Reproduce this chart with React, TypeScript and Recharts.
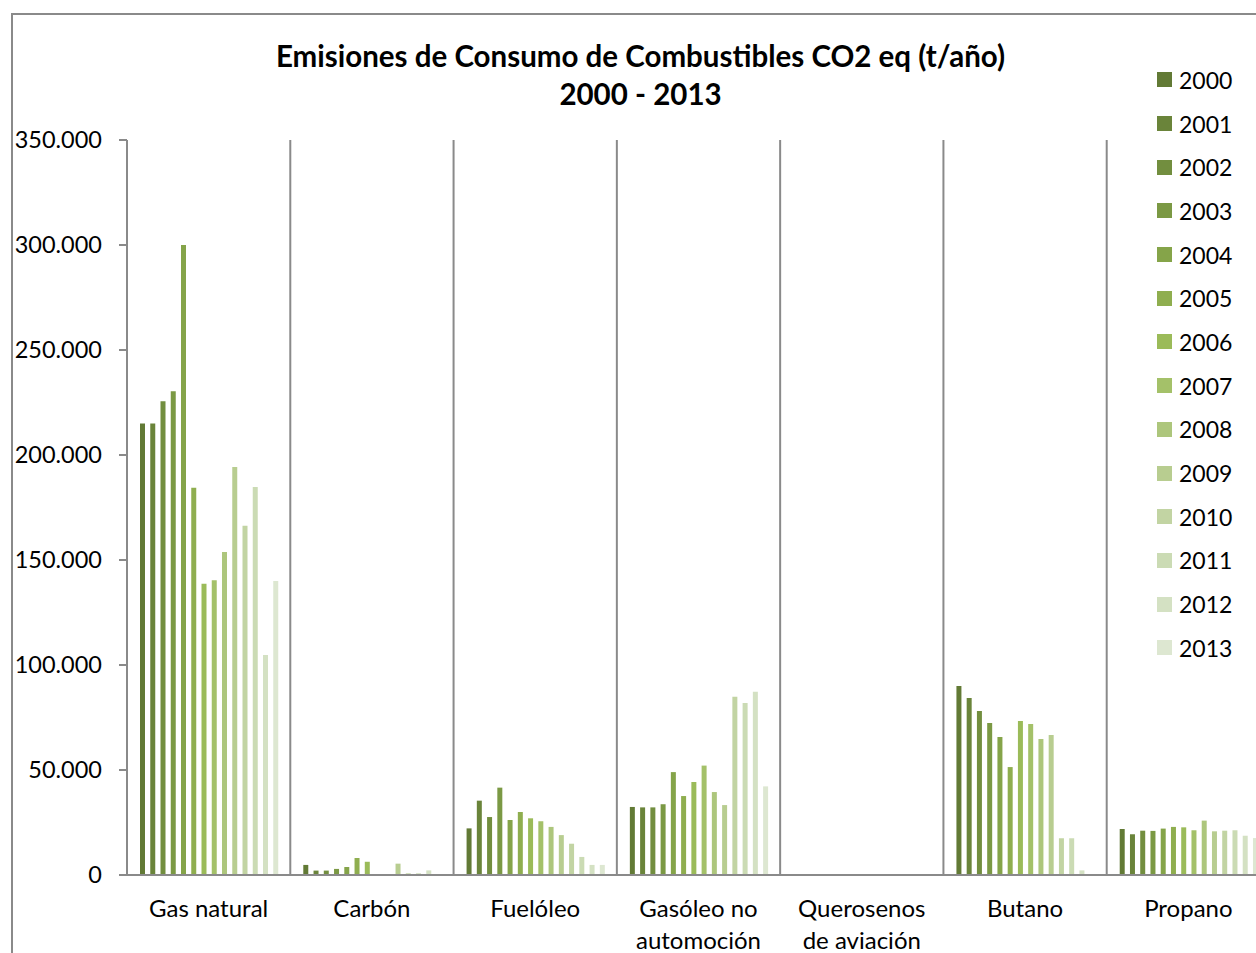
import React from 'react';
import { BarChart, Bar, XAxis, YAxis, CartesianGrid, Legend } from 'recharts';

// Fuel categories along the x axis
const categories = [
  'Gas natural',
  'Carbón',
  'Fuelóleo',
  'Gasóleo no automoción',
  'Querosenos de aviación',
  'Butano',
  'Propano',
];

// One series per year
const years = [
  '2000', '2001', '2002', '2003', '2004', '2005', '2006',
  '2007', '2008', '2009', '2010', '2011', '2012', '2013',
];

// Emissions (t CO2 eq / year), in category order
const v2000 = [215000, 4800, 22200, 32400, 0, 90000, 21900];
const v2001 = [215000, 2100, 35400, 32200, 0, 84300, 19400];
const v2002 = [225600, 2100, 27600, 32200, 0, 78100, 21100];
const v2003 = [230300, 2900, 41600, 33700, 0, 72400, 21000];
const v2004 = [300000, 3800, 26200, 49000, 0, 65700, 22100];
const v2005 = [184400, 8100, 30000, 37600, 0, 51400, 22900];
const v2006 = [138700, 6300, 27000, 44300, 0, 73300, 22700];
const v2007 = [140300, 0, 25600, 52100, 0, 71900, 21300];
const v2008 = [153800, 0, 22900, 39500, 0, 64800, 25900];
const v2009 = [194300, 5400, 19000, 33300, 0, 66700, 20800];
const v2010 = [166300, 800, 14900, 84900, 0, 17500, 21100];
const v2011 = [184800, 800, 8600, 81900, 0, 17500, 21300];
const v2012 = [104800, 2200, 4800, 87300, 0, 2200, 18700];
const v2013 = [140000, 0, 4800, 42200, 0, 0, 17600];

const seriesValues = [
  v2000, v2001, v2002, v2003, v2004, v2005, v2006,
  v2007, v2008, v2009, v2010, v2011, v2012, v2013,
];

// Green ramp from dark olive to pale sage
const seriesColors = [
  '#627a35', '#6a843a', '#728e3f', '#7b9944', '#85a449', '#8fae4f', '#9bbb59',
  '#a4c169', '#adc67c', '#b8cd90', '#c2d4a3', '#cbdbb4', '#d4e1c3', '#dde7d1',
];

const yTicks = [0, 50000, 100000, 150000, 200000, 250000, 300000, 350000];

const titleLines = ['Emisiones de Consumo de Combustibles CO2 eq (t/año)', '2000 - 2013'];

const FONT = 'Lato, "Open Sans", sans-serif';
const AXIS_GREY = '#8a8a8a';

const data = categories.map((name, i) => {
  const row: Record<string, string | number> = { name };
  years.forEach((y, k) => {
    row[y] = seriesValues[k][i];
  });
  return row;
});

const formatThousands = (v: number) =>
  String(v).replace(/\B(?=(\d{3})+(?!\d))/g, '.');

// Greedy word wrap for long category names
const wrapLabel = (text: string, maxChars: number) => {
  const words = text.split(' ');
  const lines: string[] = [];
  let cur = '';
  words.forEach((w) => {
    const next = cur ? cur + ' ' + w : w;
    if (next.length > maxChars && cur) {
      lines.push(cur);
      cur = w;
    } else {
      cur = next;
    }
  });
  if (cur) lines.push(cur);
  return lines;
};

const CategoryTick = (props: any) => {
  const { x, y, payload } = props;
  const lines = wrapLabel(String(payload.value), 11);
  return (
    <text x={x} y={y} textAnchor="middle" fontFamily={FONT} fontSize={24} fill="#000">
      {lines.map((l, i) => (
        <tspan key={i} x={x} dy={i === 0 ? 42 : 32}>
          {l}
        </tspan>
      ))}
    </text>
  );
};

const LegendList = (props: any) => {
  const { payload } = props;
  return (
    <div style={{ fontFamily: FONT, fontSize: 23, color: '#000' }}>
      {(payload || []).map((entry: any) => (
        <div
          key={entry.value}
          style={{ height: 43.7, display: 'flex', alignItems: 'center', whiteSpace: 'nowrap' }}
        >
          <span
            style={{
              display: 'inline-block',
              width: 15,
              height: 15,
              background: entry.color,
              marginRight: 7,
            }}
          />
          <span>{entry.value}</span>
        </div>
      ))}
    </div>
  );
};

export default function App() {
  return (
    <div
      style={{
        position: 'absolute',
        left: 0,
        top: 0,
        width: 1256,
        height: 953,
        overflow: 'hidden',
        background: '#fff',
        fontFamily: FONT,
      }}
    >
      <div
        style={{
          position: 'absolute',
          left: 11,
          top: 13,
          width: 1320,
          height: 1100,
          border: `2px solid ${AXIS_GREY}`,
          boxSizing: 'border-box',
        }}
      />
      <div style={{ position: 'absolute', left: 0, top: 0 }}>
        <BarChart
          width={1300}
          height={953}
          data={data}
          margin={{ top: 140, right: 30, bottom: 0, left: 0 }}
          barGap={5.25}
        >
          <CartesianGrid
            horizontal={false}
            stroke={AXIS_GREY}
            strokeWidth={2}
            verticalCoordinatesGenerator={({ offset }: any) =>
              categories.map((_, i) => offset.left + ((i + 1) * offset.width) / categories.length)
            }
          />
          <XAxis
            dataKey="name"
            height={78}
            tickSize={0}
            tickMargin={0}
            tickLine={false}
            axisLine={{ stroke: AXIS_GREY, strokeWidth: 2 }}
            tick={<CategoryTick />}
            interval={0}
          />
          <YAxis
            width={127}
            domain={[0, 350000]}
            ticks={yTicks}
            interval={0}
            tickSize={8}
            tickMargin={17}
            tickFormatter={formatThousands}
            axisLine={{ stroke: AXIS_GREY, strokeWidth: 2 }}
            tickLine={{ stroke: AXIS_GREY, strokeWidth: 2 }}
            tick={{ fontFamily: FONT, fontSize: 23.5, fill: '#000' }}
          />
          <Legend
            verticalAlign="middle"
            align="center"
            layout="vertical"
            content={<LegendList />}
            wrapperStyle={{ left: 1157, top: 58, width: 100 }}
          />
          {years.map((y, k) => (
            <Bar
              key={y}
              dataKey={y}
              name={y}
              fill={seriesColors[k]}
              barSize={5}
              isAnimationActive={false}
            />
          ))}
        </BarChart>
      </div>
      <div
        style={{
          position: 'absolute',
          left: 0,
          top: 37,
          width: 1281,
          textAlign: 'center',
          fontFamily: FONT,
          fontWeight: 700,
          fontSize: 29.5,
          lineHeight: '38px',
          color: '#000',
        }}
      >
        {titleLines.map((t) => (
          <div key={t}>{t}</div>
        ))}
      </div>
    </div>
  );
}
